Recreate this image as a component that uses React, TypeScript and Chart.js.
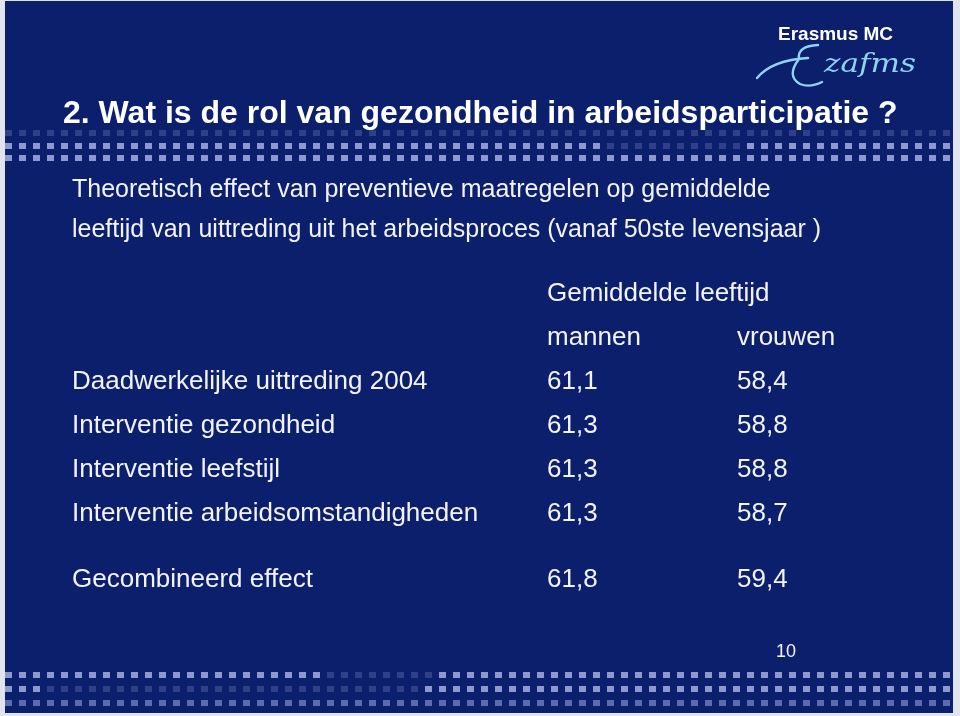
import { useEffect, useRef } from "react";
import { Chart, registerables } from "chart.js";

Chart.register(...registerables);

// ---------- data ----------
const title = "2. Wat is de rol van gezondheid in arbeidsparticipatie ?";
const subtitleLines = [
  "Theoretisch effect van preventieve maatregelen op gemiddelde",
  "leeftijd van uittreding uit het arbeidsproces (vanaf 50ste levensjaar )",
];
const groupHeader = "Gemiddelde leeftijd";
const seriesNames = ["mannen", "vrouwen"];
const categories = [
  "Daadwerkelijke uittreding 2004",
  "Interventie gezondheid",
  "Interventie leefstijl",
  "Interventie arbeidsomstandigheden",
  "Gecombineerd effect",
];
const rowSlots = [0, 1, 2, 3, 4.5];
const mannen = [61.1, 61.3, 61.3, 61.3, 61.8];
const vrouwen = [58.4, 58.8, 58.8, 58.7, 59.4];
const pageNumber = "10";
const logoText = "Erasmus MC";

const FONT = "'Liberation Sans', Arial, Helvetica, sans-serif";
const BG = "#0c1f6c";
const TEXT = "#f2f3fb";

const fmt = (v: number) => v.toFixed(1).replace(".", ",");

function drawStripeRow(
  ctx: CanvasRenderingContext2D,
  y: number,
  colorAt: (x: number) => string
) {
  for (let x = 5; x < 950; x += 14) {
    ctx.fillStyle = colorAt(x);
    ctx.fillRect(x, y, 7, 6);
  }
}

const slidePlugin = {
  id: "slide",
  beforeDraw(chart: any) {
    const ctx: CanvasRenderingContext2D = chart.ctx;
    ctx.save();
    ctx.fillStyle = "#dfe4ef";
    ctx.fillRect(0, 0, 960, 716);
    ctx.fillStyle = BG;
    ctx.fillRect(5, 1, 948, 712);

    const bright = "#8d98cf";
    const dim = "#2f4088";
    const mid = "#5b6bae";
    // top band
    drawStripeRow(ctx, 130, () => dim);
    drawStripeRow(ctx, 143, (x) => (x > 605 && x < 747 ? dim : bright));
    drawStripeRow(ctx, 155, () => bright);
    // bottom band
    drawStripeRow(ctx, 672, (x) => (x > 313 && x < 430 ? dim : bright));
    drawStripeRow(ctx, 686, (x) => (x > 44 && x < 418 ? dim : bright));
    drawStripeRow(ctx, 700, () => mid);

    // title
    ctx.fillStyle = "#ffffff";
    ctx.textBaseline = "alphabetic";
    ctx.textAlign = "left";
    ctx.font = `bold 32px ${FONT}`;
    ctx.fillText(title, 63, 123);

    // subtitle
    ctx.fillStyle = TEXT;
    ctx.font = `25px ${FONT}`;
    ctx.textBaseline = "middle";
    subtitleLines.forEach((l, i) => ctx.fillText(l, 72, 190 + i * 40));

    // logo
    ctx.fillStyle = "#ffffff";
    ctx.textBaseline = "alphabetic";
    ctx.font = `bold 19px ${FONT}`;
    ctx.fillText(logoText, 778, 40);
    ctx.strokeStyle = "#8fd2f2";
    ctx.lineWidth = 2.4;
    ctx.lineCap = "round";
    ctx.beginPath();
    ctx.moveTo(757, 78);
    ctx.quadraticCurveTo(772, 60, 808, 58);
    ctx.stroke();
    ctx.beginPath();
    ctx.moveTo(818, 45);
    ctx.quadraticCurveTo(797, 46, 799, 59);
    ctx.quadraticCurveTo(786, 76, 800, 84);
    ctx.quadraticCurveTo(810, 88, 822, 82);
    ctx.stroke();
    ctx.fillStyle = "#8fd2f2";
    ctx.font = `italic 26px 'DejaVu Serif', serif`;
    const w = ctx.measureText("zafms").width;
    ctx.save();
    ctx.translate(824, 72);
    ctx.scale(92 / w, 1);
    ctx.fillText("zafms", 0, 0);
    ctx.restore();

    // page number
    ctx.fillStyle = TEXT;
    ctx.font = `18px ${FONT}`;
    ctx.textAlign = "center";
    ctx.textBaseline = "middle";
    ctx.fillText(pageNumber, 786, 652);
    ctx.restore();
  },
  afterDatasetsDraw(chart: any) {
    const ctx: CanvasRenderingContext2D = chart.ctx;
    const xs = chart.scales.x;
    const ys = chart.scales.y;
    ctx.save();
    ctx.fillStyle = TEXT;
    ctx.font = `26px ${FONT}`;
    ctx.textAlign = "left";
    ctx.textBaseline = "middle";
    // headers
    ctx.fillText(groupHeader, xs.getPixelForValue(0), ys.getPixelForValue(-2));
    seriesNames.forEach((n, i) =>
      ctx.fillText(n, xs.getPixelForValue(i), ys.getPixelForValue(-1))
    );
    // row labels
    categories.forEach((c, i) => ctx.fillText(c, 72, ys.getPixelForValue(rowSlots[i])));
    // values
    chart.data.datasets.forEach((ds: any, di: number) => {
      const meta = chart.getDatasetMeta(di);
      meta.data.forEach((pt: any, i: number) => {
        ctx.fillText(fmt(ds.data[i].v), pt.x, pt.y);
      });
    });
    ctx.restore();
  },
};

export default function App() {
  const ref = useRef<HTMLCanvasElement | null>(null);
  useEffect(() => {
    document.body.style.margin = "0";
    const canvas = ref.current!;
    const series = [mannen, vrouwen];
    const chart = new Chart(canvas, {
      type: "scatter",
      data: {
        datasets: series.map((vals, si) => ({
          label: seriesNames[si],
          data: vals.map((v, i) => ({ x: si, y: rowSlots[i], v })),
          pointRadius: 0,
          pointHoverRadius: 0,
        })),
      },
      options: {
        animation: false,
        responsive: false,
        events: [],
        layout: { padding: { left: 547, right: 223, top: 382, bottom: 136 } },
        plugins: { legend: { display: false }, tooltip: { enabled: false } },
        scales: {
          x: { type: "linear", min: 0, max: 1, display: false },
          y: { type: "linear", min: 0, max: 4.5, reverse: true, display: false },
        },
      },
      plugins: [slidePlugin],
    });
    return () => chart.destroy();
  }, []);
  return (
    <div style={{ position: "absolute", left: 0, top: 0, width: 960, height: 716 }}>
      <canvas ref={ref} width={960} height={716} style={{ display: "block" }} />
    </div>
  );
}
